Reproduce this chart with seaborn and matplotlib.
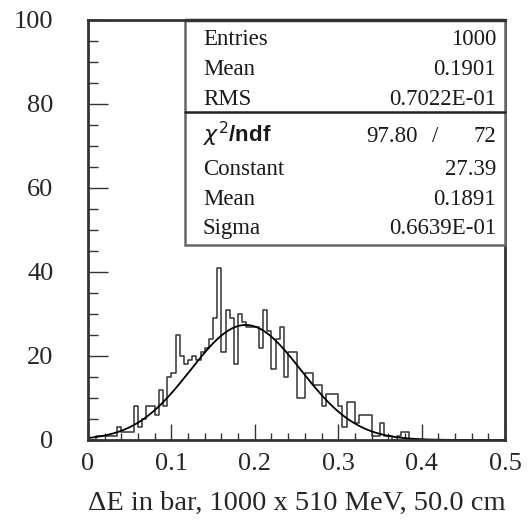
import numpy as np
import pandas as pd
import matplotlib
matplotlib.use("Agg")
import matplotlib.pyplot as plt
from matplotlib.patches import Rectangle
from matplotlib.lines import Line2D
from matplotlib.ticker import MultipleLocator
import seaborn as sns

# ---- data ----
x_min, x_max, bin_width = 0.0, 0.5, 0.005
counts = [0, 0, 1, 1, 1, 1, 1, 3, 2, 2,
          2, 8, 3, 5, 8, 8, 6, 12, 8, 15,
          16, 25, 20, 18, 19, 20, 19, 21, 22, 24,
          29, 41, 21, 31, 29, 18, 30, 28, 27, 27,
          27, 22, 31, 26, 17, 24, 27, 15, 21, 21,
          10, 10, 16, 16, 13, 13, 8, 11, 11, 11,
          8, 3, 9, 9, 4, 6, 6, 6, 1, 1,
          4, 1, 1, 0, 1, 2, 2, 0, 0, 0,
          0, 0, 0, 0, 0, 0, 0, 0, 0, 0,
          0, 0, 0, 0, 0, 0, 0, 0, 0, 0]
fit_constant = 27.39
fit_mean = 0.1891
fit_sigma = 0.06639

stat_labels = ["Entries", "Mean", "RMS"]
stat_values = ["1000", "0.1901", "0.7022E-01"]
chi2_value = "97.80"
ndf_value = "72"
fit_labels = ["Constant", "Mean", "Sigma"]
fit_values = ["27.39", "0.1891", "0.6639E-01"]
x_ticks = [0, 0.1, 0.2, 0.3, 0.4, 0.5]
x_ticklabels = ["0", "0.1", "0.2", "0.3", "0.4", "0.5"]
y_ticks = [0, 20, 40, 60, 80, 100]
x_label = "ΔE in bar, 1000 x 510 MeV, 50.0 cm"

# ---- style ----
sns.set_style("ticks")
plt.rcParams["font.family"] = ["Liberation Serif", "DejaVu Serif"]
plt.rcParams["mathtext.fontset"] = "dejavusans"

W, H = 531, 532
fig = plt.figure(figsize=(W / 100, H / 100), dpi=100)
L, R, T, B = 88, 505, 20, 440
ax = fig.add_axes([L / W, 1 - B / H, (R - L) / W, (B - T) / H])

n_bins = len(counts)
centers = x_min + bin_width * (np.arange(n_bins) + 0.5)
df = pd.DataFrame({"x": centers, "w": np.asarray(counts, dtype=float)})
sns.histplot(data=df, x="x", weights="w", binwidth=bin_width, binrange=(x_min, x_max),
             element="step", fill=False, color="#333333", linewidth=1.1, ax=ax)

xs = np.linspace(x_min, x_max, 500)
ys = fit_constant * np.exp(-0.5 * ((xs - fit_mean) / fit_sigma) ** 2)
sns.lineplot(x=xs, y=ys, color="black", linewidth=1.3, ax=ax)

ax.set_xlim(x_min, x_max)
ax.set_ylim(0, 100)
ax.set_xticks(x_ticks)
ax.set_xticklabels(x_ticklabels)
ax.set_yticks(y_ticks)
ax.xaxis.set_minor_locator(MultipleLocator(0.02))
ax.yaxis.set_minor_locator(MultipleLocator(5))
ax.tick_params(axis="x", which="major", direction="in", length=11.5, width=1,
               labelsize=19, pad=9, color="#333333")
ax.tick_params(axis="x", which="minor", direction="in", length=5, width=1, color="#333333")
ax.tick_params(axis="y", which="major", direction="in", length=14.4, width=1,
               labelsize=19, pad=25, color="#333333")
ax.tick_params(axis="y", which="minor", direction="in", length=7.2, width=1, color="#333333")
ax.set_ylabel("")
ax.set_xlabel(x_label, fontsize=20.5, labelpad=12)
for s in ax.spines.values():
    s.set_visible(True)
    s.set_linewidth(2)
    s.set_color("#333333")

# ---- stats box ----
bx0, bx1, by0, by1 = 185, 505, 20, 245
def fx(p):
    return p / W
def fy(p):
    return 1 - p / H

fig.patches.append(Rectangle((fx(bx0), fy(by1)), (bx1 - bx0) / W, (by1 - by0) / H,
                             transform=fig.transFigure, facecolor="white",
                             edgecolor="#666666", linewidth=1.8, zorder=5))
fig.lines.append(Line2D([fx(bx0), fx(bx1)], [fy(112), fy(112)],
                        transform=fig.transFigure, color="#222222", linewidth=1.8, zorder=6))
fig.lines.append(Line2D([fx(bx0), fx(bx1)], [fy(20), fy(20)],
                        transform=fig.transFigure, color="#333333", linewidth=2.5, zorder=6))

fs = 16.5
lx, rx = 203, 496
tc = "#1a1a1a"
for lab, val, yb in zip(stat_labels, stat_values, [45, 75, 105]):
    fig.text(fx(lx), fy(yb), lab, fontsize=fs, ha="left", va="baseline", zorder=7, color=tc)
    fig.text(fx(rx), fy(yb), val, fontsize=fs, ha="right", va="baseline", zorder=7, color=tc)
fig.text(fx(lx), fy(142), r"$\chi^2$/ndf", fontsize=fs - 0.5, ha="left", va="baseline", zorder=7,
         family=["Liberation Sans", "DejaVu Sans"], fontweight="bold", color=tc)
fig.text(fx(418), fy(142), chi2_value, fontsize=fs, ha="right", va="baseline", zorder=7, color=tc)
fig.text(fx(435), fy(142), "/", fontsize=fs, ha="center", va="baseline", zorder=7, color=tc)
fig.text(fx(rx), fy(142), ndf_value, fontsize=fs, ha="right", va="baseline", zorder=7, color=tc)
for lab, val, yb in zip(fit_labels, fit_values, [175, 205, 234]):
    fig.text(fx(lx), fy(yb), lab, fontsize=fs, ha="left", va="baseline", zorder=7, color=tc)
    fig.text(fx(rx), fy(yb), val, fontsize=fs, ha="right", va="baseline", zorder=7, color=tc)

fig.savefig("out.png", dpi=100)
